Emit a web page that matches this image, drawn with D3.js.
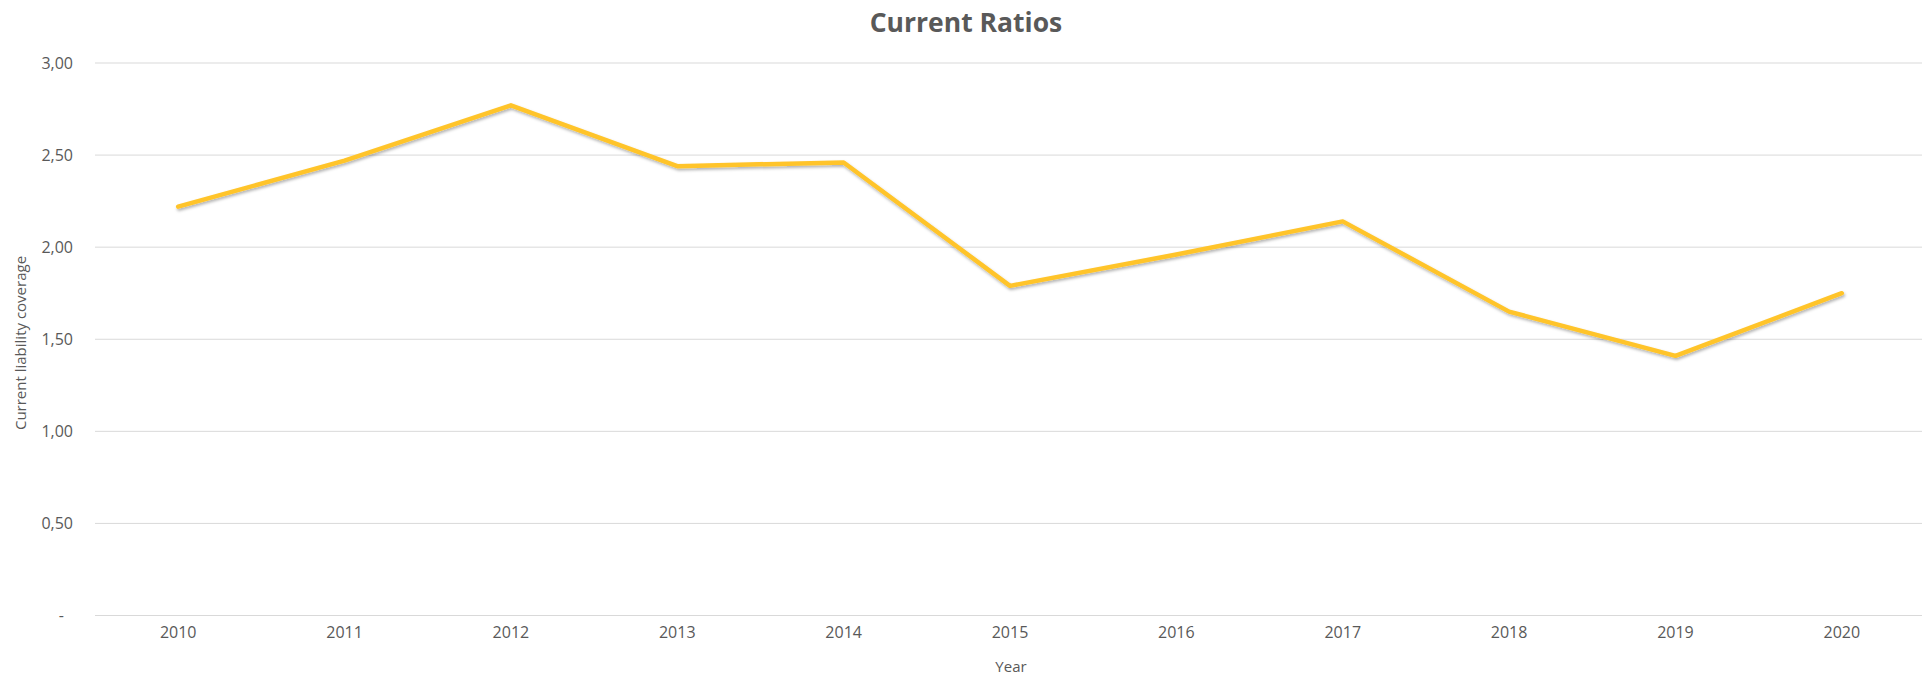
<!DOCTYPE html>
<html>
<head>
<meta charset="utf-8">
<script src="https://cdn.jsdelivr.net/npm/d3@7"></script>
<style>
  body { margin: 0; background: #fff; }
  text { font-family: "Open Sans", sans-serif; fill: #595959; }
</style>
</head>
<body>
<script>
const years = ["2010","2011","2012","2013","2014","2015","2016","2017","2018","2019","2020"]
const ratios = [2.22, 2.47, 2.77, 2.44, 2.46, 1.79, 1.96, 2.14, 1.65, 1.41, 1.75]
const yTicks = [0, 0.5, 1, 1.5, 2, 2.5, 3]

var width = 1922, height = 675;
var plotLeft = 95, plotRight = 1925, plotTop = 63, plotBottom = 615.5;

var svg = d3.select("body").append("svg")
    .attr("width", width).attr("height", height)

var defs = svg.append("defs")
defs.append("filter").attr("id","shadow")
    .attr("x","-5%").attr("y","-20%").attr("width","110%").attr("height","140%")
  .append("feDropShadow")
    .attr("dx",1).attr("dy",2).attr("stdDeviation",1.5)
    .attr("flood-color","#000").attr("flood-opacity",0.3)

var xScale = d3.scaleBand().domain(years).range([plotLeft, plotRight])
var yScale = d3.scaleLinear().domain([0, 3]).range([plotBottom, plotTop])

// gridlines
svg.append("g").selectAll("line").data(yTicks).enter().append("line")
    .attr("x1", plotLeft).attr("x2", width)
    .attr("y1", d => yScale(d)).attr("y2", d => yScale(d))
    .style("stroke", "#d9d9d9").style("stroke-width", 1)

// y axis labels
var yAxis = d3.axisLeft(yScale).tickValues(yTicks).tickSize(0).tickPadding(0)
    .tickFormat(d => d === 0 ? "-" : d3.format(".2f")(d).replace(".", ","))
var yg = svg.append("g").attr("transform", "translate(73,0)").call(yAxis)
yg.select(".domain").remove()
yg.selectAll("text").style("font-size", "16px").attr("fill", "#595959")
    .attr("font-family", null)
    .attr("dx", d => d === 0 ? "-9px" : null)

// x axis labels
var xAxis = d3.axisBottom(xScale).tickSize(0).tickPadding(0)
var xg = svg.append("g").attr("transform", "translate(0,627)").call(xAxis)
xg.select(".domain").remove()
xg.selectAll("text").style("font-size", "16px").attr("fill", "#595959")
    .attr("font-family", null)

// line
var line = d3.line()
    .x((d, i) => xScale(years[i]) + xScale.bandwidth() / 2)
    .y(d => yScale(d))
svg.append("path").datum(ratios)
    .attr("d", line)
    .attr("fill", "none")
    .attr("stroke", "#FFC42A")
    .attr("stroke-width", 4.5)
    .attr("stroke-linejoin", "round")
    .attr("stroke-linecap", "round")
    .attr("filter", "url(#shadow)")

// title
svg.append("text").attr("x", 966).attr("y", 32)
    .attr("text-anchor", "middle")
    .style("font-size", "26.5px").style("font-weight", "bold")
    .text("Current Ratios")

// axis titles
svg.append("text").attr("x", 1011).attr("y", 672)
    .attr("text-anchor", "middle")
    .style("font-size", "15px")
    .text("Year")

svg.append("text")
    .attr("transform", "translate(26,343) rotate(-90)")
    .attr("text-anchor", "middle")
    .style("font-size", "15px")
    .text("Current liability coverage")
</script>
</body>
</html>
